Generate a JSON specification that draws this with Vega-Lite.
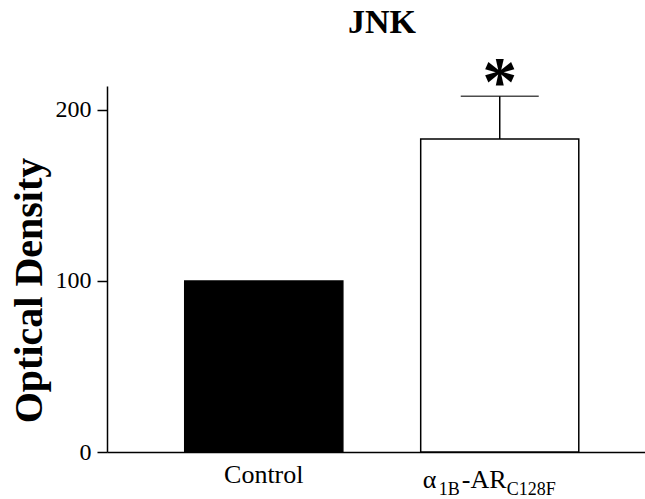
{
  "$schema": "https://vega.github.io/schema/vega-lite/v6.json",
  "width": 538,
  "height": 366,
  "autosize": {"type": "none"},
  "padding": {"left": 107, "top": 86, "right": 0, "bottom": 47},
  "config": {"view": {"stroke": null}, "font": "Liberation Serif"},
  "title": {"text": "JNK", "fontSize": 34, "fontWeight": "bold", "font": "Liberation Serif", "color": "black", "anchor": "middle", "frame": "group", "dx": 6, "baseline": "alphabetic", "offset": -18},
  "data": {"values": [
    {"group": "Control", "value": 100, "upper": null},
    {"group": "α1B-ARC128F", "value": 183, "upper": 208}
  ]},
  "encoding": {
    "x": {"field": "group", "type": "nominal", "sort": null,
      "scale": {"paddingInner": 0.33, "paddingOuter": 0.305, "align": 0.54},
      "axis": {"title": null, "domainColor": "black", "domainWidth": 1.5, "ticks": false, "labelAngle": 0, "labelFontSize": 26, "labelColor": "black", "labelPadding": 9, "labelFont": "Liberation Serif", "labelExpr": "datum.value == 'Control' ? 'Control' : ''"}}
  },
  "layer": [
    {
      "mark": {"type": "bar", "stroke": "black", "strokeWidth": 1.5},
      "encoding": {
        "y": {"field": "value", "type": "quantitative",
          "scale": {"domain": [0, 214], "nice": false, "zero": true},
          "axis": {"title": "Optical Density", "titleFontSize": 40, "titleFontWeight": "bold", "titleFont": "Liberation Serif", "titleColor": "black", "titleAngle": -90, "titleX": -78, "titleY": 204, "titleAlign": "center", "titleBaseline": "middle", "values": [0, 100, 200], "tickSize": 10, "tickColor": "black", "tickWidth": 1.5, "domainColor": "black", "domainWidth": 1.5, "labelFontSize": 24, "labelFont": "Liberation Serif", "labelColor": "black", "labelPadding": 6, "grid": false}},
        "color": {"field": "group", "type": "nominal", "scale": {"domain": ["Control", "α1B-ARC128F"], "range": ["black", "white"]}, "legend": null}
      }
    },
    {
      "transform": [{"filter": "datum.upper != null"}],
      "mark": {"type": "rule", "color": "black", "strokeWidth": 1.5},
      "encoding": {"y": {"field": "value", "type": "quantitative"}, "y2": {"field": "upper"}}
    },
    {
      "transform": [{"filter": "datum.upper != null"}],
      "mark": {"type": "tick", "color": "black", "thickness": 1.5, "size": 78, "orient": "horizontal"},
      "encoding": {"y": {"field": "upper", "type": "quantitative"}}
    },
    {
      "transform": [{"filter": "datum.upper != null"}],
      "mark": {"type": "text", "text": "*", "fontSize": 70, "fontWeight": "bold", "font": "Liberation Serif", "color": "black", "baseline": "alphabetic", "dy": 9},
      "encoding": {"y": {"field": "upper", "type": "quantitative"}}
    },
    {
      "transform": [{"filter": "datum.upper != null"}],
      "mark": {"type": "text", "text": "α", "fontSize": 26, "font": "Liberation Serif", "color": "black", "align": "left", "baseline": "alphabetic", "dx": -77},
      "encoding": {"y": {"datum": 0, "type": "quantitative"}, "yOffset": {"value": 36}}
    },
    {
      "transform": [{"filter": "datum.upper != null"}],
      "mark": {"type": "text", "text": "1B", "fontSize": 18, "font": "Liberation Serif", "color": "black", "align": "left", "baseline": "alphabetic", "dx": -61},
      "encoding": {"y": {"datum": 0, "type": "quantitative"}, "yOffset": {"value": 43}}
    },
    {
      "transform": [{"filter": "datum.upper != null"}],
      "mark": {"type": "text", "text": "-AR", "fontSize": 26, "font": "Liberation Serif", "color": "black", "align": "left", "baseline": "alphabetic", "dx": -38},
      "encoding": {"y": {"datum": 0, "type": "quantitative"}, "yOffset": {"value": 36}}
    },
    {
      "transform": [{"filter": "datum.upper != null"}],
      "mark": {"type": "text", "text": "C128F", "fontSize": 18, "font": "Liberation Serif", "color": "black", "align": "left", "baseline": "alphabetic", "dx": 7},
      "encoding": {"y": {"datum": 0, "type": "quantitative"}, "yOffset": {"value": 43}}
    }
  ]
}
